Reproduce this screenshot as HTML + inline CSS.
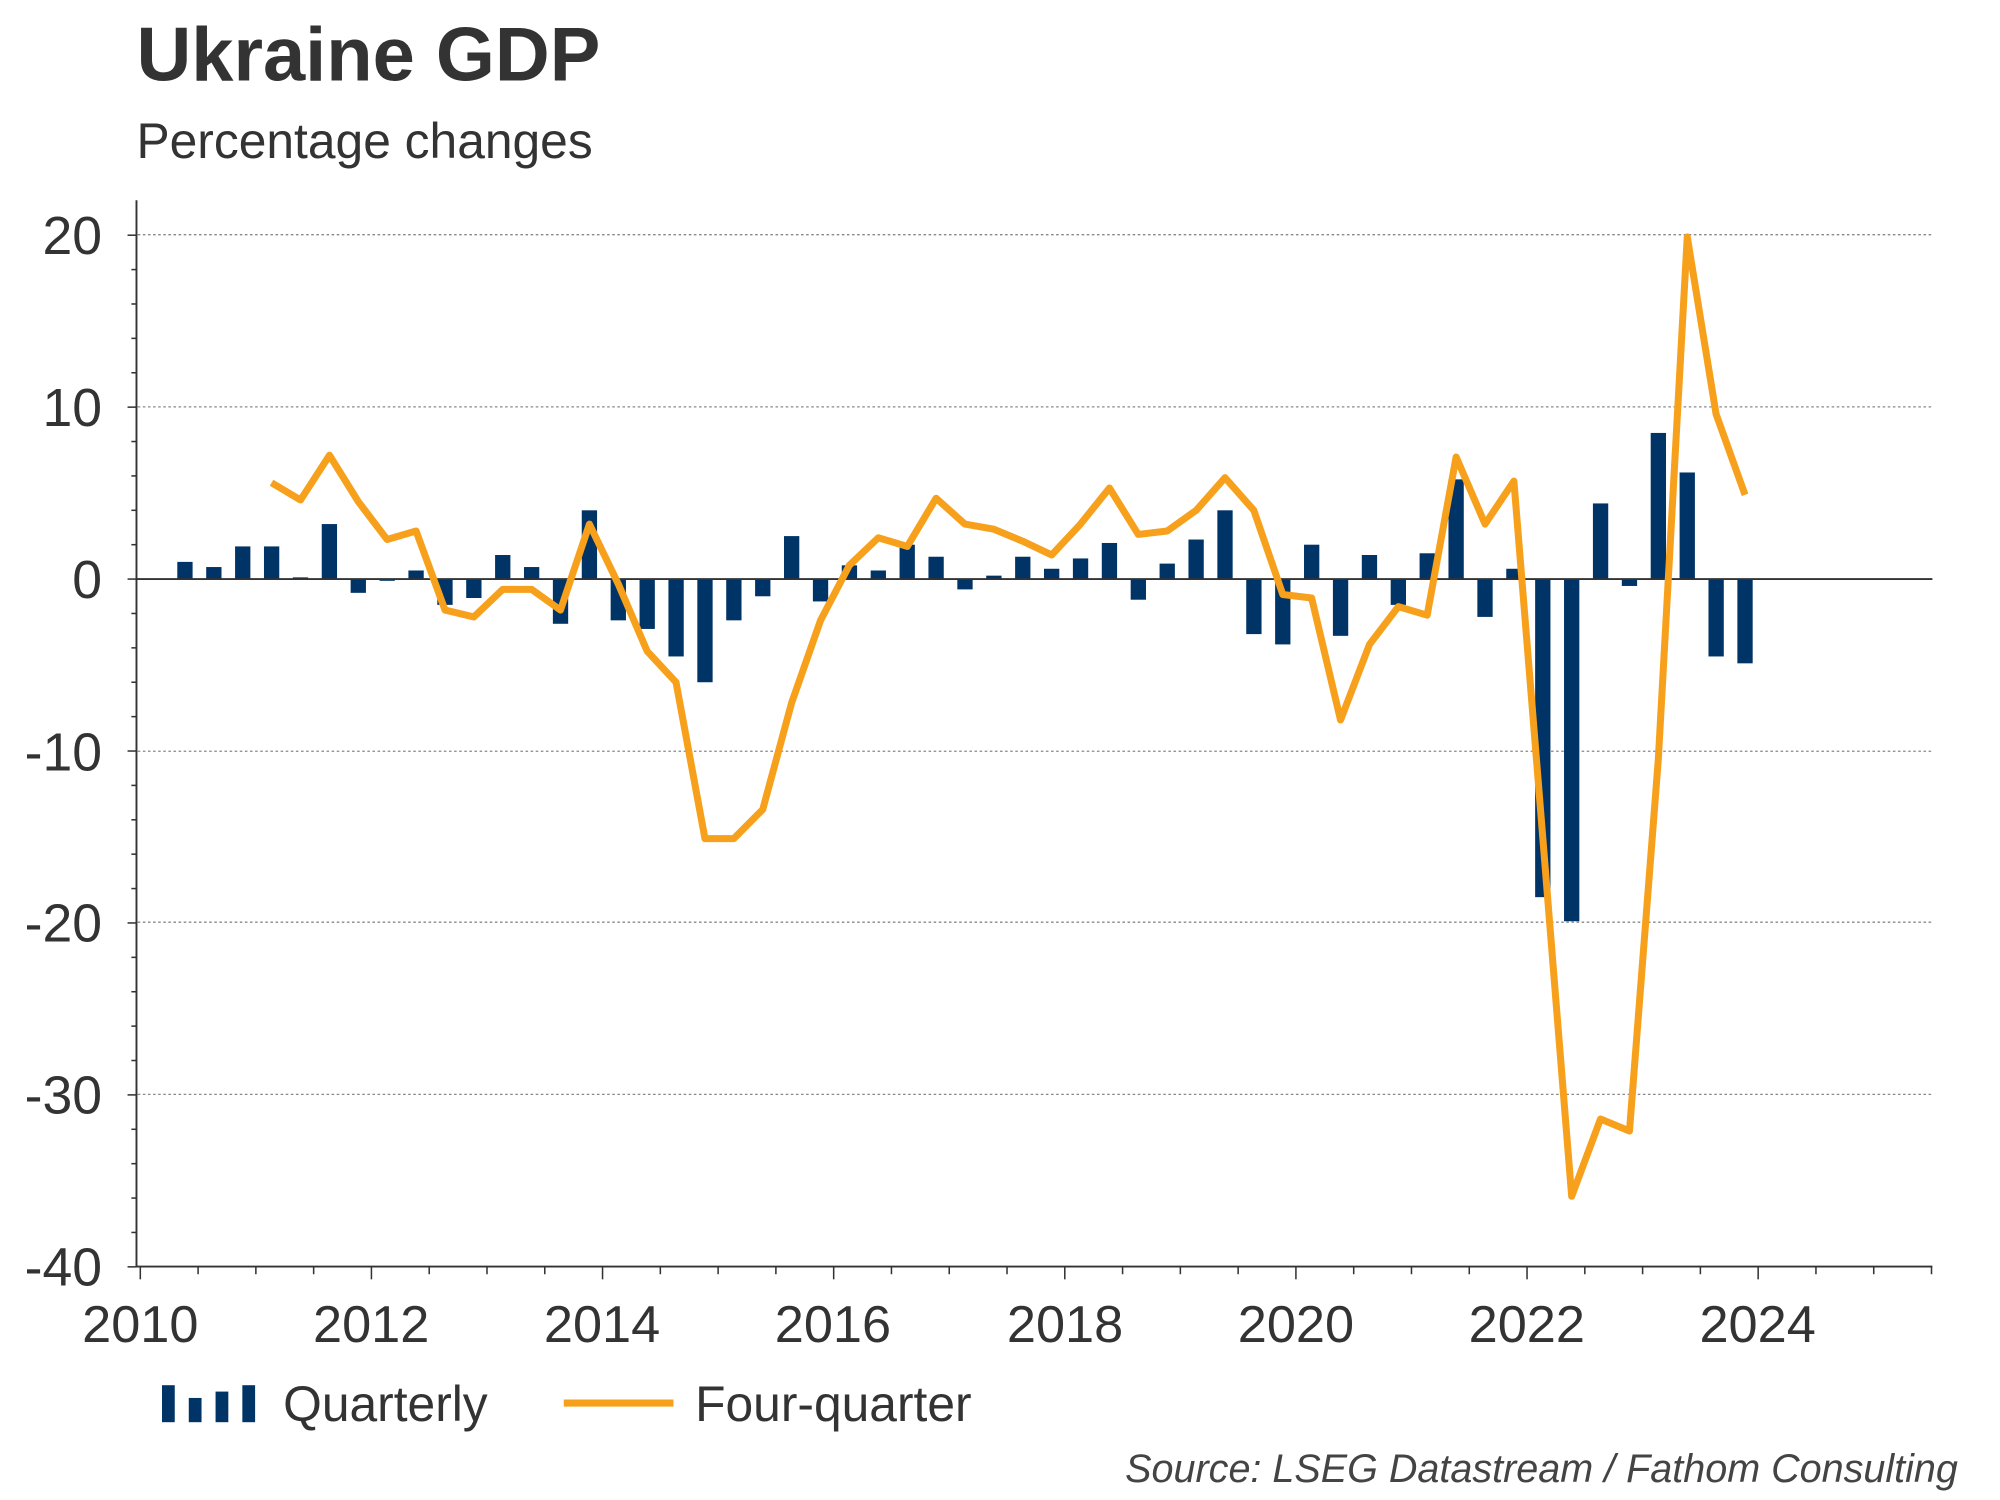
<!DOCTYPE html>
<html><head><meta charset="utf-8"><style>
html,body{margin:0;padding:0;background:#fff;}
svg{display:block;}
text{font-family:"Liberation Sans",Arial,sans-serif;fill:#333;}
</style></head><body>
<svg width="2000" height="1500" viewBox="0 0 1568 1176" preserveAspectRatio="none" xmlns="http://www.w3.org/2000/svg">
<rect width="1568" height="1176" fill="#fff"/>
<text x="107" y="63" font-size="59.5" font-weight="bold">Ukraine GDP</text>
<text x="107" y="124" font-size="39">Percentage changes</text>
<g stroke="#888" stroke-width="1" stroke-dasharray="2,2">
<line x1="108" y1="184" x2="1515" y2="184"/>
<line x1="108" y1="319" x2="1515" y2="319"/>
<line x1="108" y1="589" x2="1515" y2="589"/>
<line x1="108" y1="723" x2="1515" y2="723"/>
<line x1="108" y1="858" x2="1515" y2="858"/>
</g>
<g id="bars" fill="#003366"></g>
<line x1="107" y1="454" x2="1515" y2="454" stroke="#333" stroke-width="1.5"/>
<polyline id="ln" fill="none" stroke="#f7a01c" stroke-width="5.5" stroke-linejoin="round"/>
<line x1="107" y1="157" x2="107" y2="993" stroke="#333" stroke-width="1.5"/>
<line x1="107" y1="993" x2="1515" y2="993" stroke="#333" stroke-width="1.5"/>
<g id="ticks" stroke="#333" stroke-width="1.2"></g>
<g font-size="42" text-anchor="end">
<text x="80" y="199">20</text><text x="80" y="334">10</text><text x="80" y="469">0</text>
<text x="80" y="604">-10</text><text x="80" y="738">-20</text><text x="80" y="873">-30</text><text x="80" y="1008">-40</text>
</g>
<g font-size="41" text-anchor="middle">
<text x="110" y="1052">2010</text><text x="291" y="1052">2012</text><text x="472" y="1052">2014</text>
<text x="653" y="1052">2016</text><text x="835" y="1052">2018</text><text x="1016" y="1052">2020</text>
<text x="1197" y="1052">2022</text><text x="1378" y="1052">2024</text>
</g>
<g fill="#003366">
<rect x="127" y="1086" width="10" height="29"/><rect x="148" y="1096" width="10" height="19"/>
<rect x="169" y="1091" width="10" height="24"/><rect x="190" y="1086" width="10" height="29"/>
</g>
<text x="222" y="1114" font-size="39">Quarterly</text>
<line x1="442" y1="1100" x2="528" y2="1100" stroke="#f7a01c" stroke-width="5.5"/>
<text x="545" y="1114" font-size="39">Four-quarter</text>
<text x="1535" y="1162" font-size="31" font-style="italic" text-anchor="end" style="fill:#444">Source: LSEG Datastream / Fathom Consulting</text>
</svg>
<script>
var b=[1.0,0.7,1.9,1.9,0.1,3.2,-0.8,-0.1,0.5,-1.5,-1.1,1.4,0.7,-2.6,4.0,-2.4,-2.9,-4.5,-6.0,-2.4,-1.0,2.5,-1.3,0.8,0.5,2.0,1.3,-0.6,0.2,1.3,0.6,1.2,2.1,-1.2,0.9,2.3,4.0,-3.2,-3.8,2.0,-3.3,1.4,-1.5,1.5,5.8,-2.2,0.6,-18.5,-19.9,4.4,-0.4,8.5,6.2,-4.5,-4.9];
var l={3:5.6,4:4.6,5:7.2,6:4.5,7:2.3,8:2.8,9:-1.8,10:-2.2,11:-0.6,12:-0.6,13:-1.8,14:3.2,15:-0.3,16:-4.2,17:-6.0,18:-15.1,19:-15.1,20:-13.4,21:-7.2,22:-2.4,23:0.8,24:2.4,25:1.9,26:4.7,27:3.2,28:2.9,29:2.2,30:1.4,31:3.2,32:5.3,33:2.6,34:2.8,35:4.0,36:5.9,37:4.0,38:-0.9,39:-1.1,40:-8.2,41:-3.8,42:-1.6,43:-2.1,44:7.1,45:3.2,46:5.7,47:-15,48:-35.9,49:-31.4,50:-32.1,51:-10.5,52:19.9,53:9.6,54:4.9};
var ns="http://www.w3.org/2000/svg",g=document.getElementById('bars');
function X(i){return 145+22.65*i;}function Y(v){return 454-13.48*v;}
b.forEach(function(v,i){var r=document.createElementNS(ns,'rect');var y=Y(v);r.setAttribute('x',X(i)-6);r.setAttribute('width',12);r.setAttribute('y',Math.min(y,454));r.setAttribute('height',Math.abs(y-454));g.appendChild(r);});
var p=[];for(var i=3;i<=54;i++)p.push(X(i).toFixed(1)+','+Y(l[i]).toFixed(1));
document.getElementById('ln').setAttribute('points',p.join(' '));
var t=document.getElementById('ticks'),s='';
for(var k=0;k<=31;k++){var x=110+45.3*k;s+='<line x1="'+x+'" y1="993" x2="'+x+'" y2="'+(k%4==0?1003:999)+'"/>';}
for(var v=-40;v<=20;v+=2){var y=Y(v);s+='<line x1="'+(v%10==0?100:103)+'" y1="'+y+'" x2="107" y2="'+y+'"/>';}
t.innerHTML=s;
</script>
</body></html>
